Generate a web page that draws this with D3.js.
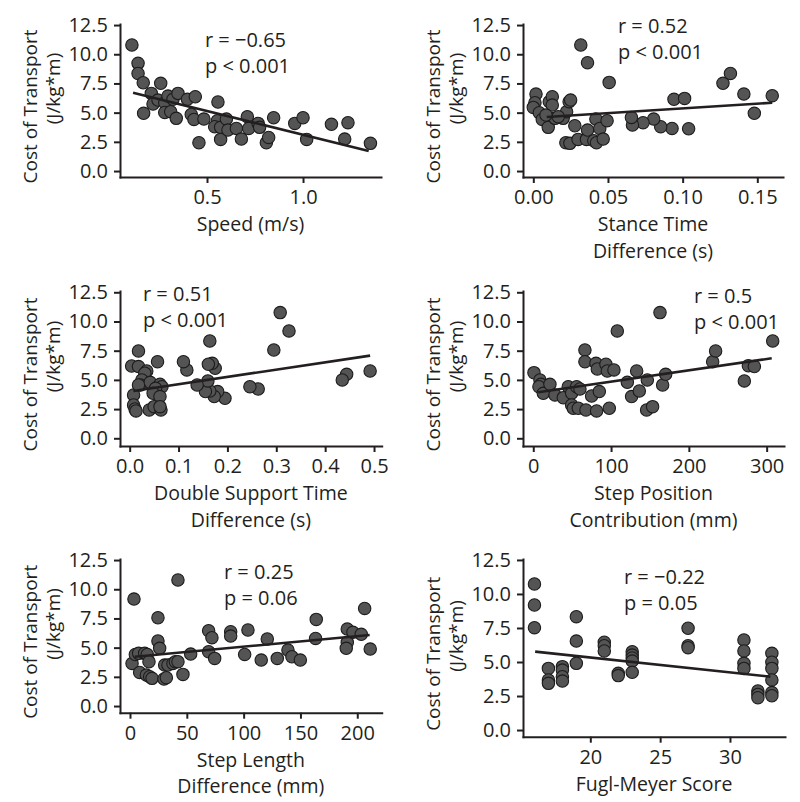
<!DOCTYPE html>
<html><head><meta charset="utf-8">
<script src="https://cdn.jsdelivr.net/npm/d3@7"></script>
<style>
body{margin:0;background:#fff}
svg{display:block}
text{font-family:"Open Sans",sans-serif;fill:#231f20}
</style>
</head><body>
<svg id="chart" width="800" height="802"></svg>
<script>
// ---------- data ----------
const speedX=[0.109,0.141,0.141,0.168,0.170,0.210,0.219,0.259,0.245,0.280,0.280,0.311,0.297,0.323,0.349,0.340,0.398,0.439,0.418,0.432,0.458,0.484,0.557,0.554,0.540,0.571,0.601,0.571,0.609,0.653,0.679,0.710,0.717,0.766,0.774,0.809,0.821,0.847,0.957,1.000,1.019,1.148,1.234,1.217,1.351];
const speedY=[10.79,9.22,8.36,7.56,4.94,6.65,5.74,7.51,6.08,5.85,5.02,5.08,6.42,6.14,6.65,4.51,6.14,6.36,4.85,4.42,2.43,4.45,5.91,4.31,3.80,3.74,4.45,2.71,3.51,3.65,2.74,4.65,3.65,4.08,3.74,2.43,2.88,4.57,4.08,4.57,2.71,4.00,4.14,2.74,2.37];
const speedFit=[[0.115,6.71],[1.342,1.71]];

const stanceX=[0.0318,0.0363,0.0508,0.127,0.132,0.141,0.160,0.148,0.0942,0.1013,0.104,0.0929,0.0853,0.0806,0.0735,0.0664,0.0657,0.0018,0.0011,0.0,0.004,0.006,0.010,0.0107,0.0127,0.0127,0.0145,0.0085,0.020,0.0223,0.024,0.025,0.0218,0.0245,0.0278,0.030,0.0356,0.0363,0.0405,0.0423,0.0419,0.0445,0.0468,0.0494,0.0167];
const stanceY=[10.79,9.28,7.59,7.51,8.36,6.59,6.45,4.94,6.14,6.22,3.62,3.65,3.80,4.45,4.14,3.94,4.59,6.59,5.85,5.45,4.99,4.42,3.74,5.94,6.36,5.65,4.51,4.79,4.51,5.08,5.94,6.08,2.43,2.37,3.88,2.71,2.71,3.51,2.60,2.43,4.45,3.65,2.74,4.31,4.65];
const stanceFit=[[0.009,4.63],[0.160,5.85]];

const dsX=[0.308,0.326,0.295,0.164,0.492,0.444,0.435,0.263,0.246,0.195,0.180,0.173,0.164,0.155,0.160,0.138,0.175,0.169,0.161,0.117,0.110,0.057,0.018,0.004,0.018,0.035,0.031,0.025,0.022,0.042,0.062,0.066,0.053,0.048,0.062,0.008,0.008,0.011,0.013,0.040,0.050,0.064,0.062,0.018];
const dsY=[10.76,9.19,7.56,8.33,5.76,5.48,4.99,4.22,4.42,3.42,4.00,3.57,4.05,4.00,4.91,4.57,5.99,6.42,6.34,5.85,6.56,6.56,7.48,6.19,6.14,5.76,5.57,4.99,4.57,4.79,4.62,4.42,4.28,3.85,3.57,3.71,2.85,2.51,2.34,2.43,2.71,2.43,2.71,4.57];
const dsFit=[[0.0075,4.05],[0.492,7.08]];

const posX=[0.9,8.6,9.9,7.3,12.9,21.4,27.9,38.6,45,49.3,55.7,60,49.3,51.4,57.9,67.7,81.4,97.7,66.4,66.4,80.6,82.3,93.4,95.2,103.7,108,162.9,120.9,132.9,126.4,136.3,75,84.9,146.6,145.7,153.4,166.3,170.2,230.6,234.4,271.3,276.5,284.2,307.8];
const posY=[5.62,4.99,4.62,4.42,3.85,4.62,3.71,3.48,4.42,3.85,4.42,4.22,2.85,2.57,2.57,2.43,2.34,2.57,7.56,6.56,6.42,5.94,6.34,5.76,5.85,9.19,10.76,4.79,5.76,3.57,4.05,3.62,4.00,4.99,2.43,2.71,4.57,5.48,6.56,7.48,4.91,6.22,6.14,8.33];
const posFit=[[6.4,3.94],[306.5,6.85]];

const slX=[3.5,42.2,24.6,24.6,26.1,1.8,4.7,7.6,12.9,15.2,16.7,8.5,14.4,17.3,19.4,29.9,32,30.5,33.4,37.8,39.9,42.2,46.6,53.4,69.2,72.1,69.2,74.5,88.6,88.6,103.8,100.9,115.5,120.8,129.6,139,142.5,149.9,163.9,163.3,191.2,191.2,190.3,196.2,203.5,206.5,211.4];
const slY=[9.16,10.79,7.56,5.57,4.94,3.65,4.42,4.51,4.51,4.42,3.80,2.88,2.65,2.51,2.37,2.31,2.43,3.51,3.51,3.65,3.80,3.80,2.71,4.45,6.45,5.85,4.65,4.08,6.36,5.99,6.51,4.42,3.94,5.74,4.08,4.79,4.22,3.94,7.42,5.79,6.59,5.45,4.94,6.31,6.14,8.36,4.88];
const slFit=[[4.1,4.22],[210.9,6.08]];

const fmX=[16,16,16,17,17,17,18,18,18,18,19,19,19,21,21,21,22,22,23,23,23,23,23,27,27,27,31,31,31,31,32,32,32,33,33,33,33,33,33];
const fmY=[10.74,9.19,7.52,4.53,3.68,3.43,4.66,4.41,3.92,3.60,8.33,6.54,4.90,6.45,6.20,5.81,4.17,4.00,5.76,5.51,5.30,5.07,4.24,7.48,6.20,6.05,6.62,5.81,4.90,4.53,2.87,2.62,2.38,5.64,4.98,4.53,3.68,2.75,2.52];
const fmFit=[[16.05,5.76],[32.9,3.92]];

const yTicks=[0,2.5,5,7.5,10,12.5];
const xTitles=[["Speed (m/s)"],["Stance Time","Difference (s)"],["Double Support Time","Difference (s)"],["Step Position","Contribution (mm)"],["Step Length","Difference (mm)"],["Fugl-Meyer Score"]];
const stats=[["r = \u22120.65","p < 0.001"],["r = 0.52","p < 0.001"],["r = 0.51","p < 0.001"],["r = 0.5","p < 0.001"],["r = 0.25","p = 0.06"],["r = \u22120.22","p = 0.05"]];
const yTitle=["Cost of Transport","(J/kg*m)"];

// ---------- layout ----------
const panels=[
 {xs:speedX,ys:speedY,fit:speedFit,xd:[0.047,1.406],xr:[120,381],yd:[-0.51,12.59],yr:[177,24],xt:[0.5,1.0],fmt:".1f",ann:[205,46.7]},
 {xs:stanceX,ys:stanceY,fit:stanceFit,xd:[-0.0069,0.1672],xr:[523,783],yd:[-0.51,12.59],yr:[177,24],xt:[0,0.05,0.10,0.15],fmt:".2f",ann:[618,32.5]},
 {xs:dsX,ys:dsY,fit:dsFit,xd:[-0.0198,0.5157],xr:[120,381.7],yd:[-0.66,12.61],yr:[446,291],xt:[0,0.1,0.2,0.3,0.4,0.5],fmt:".1f",ann:[143,301]},
 {xs:posX,ys:posY,fit:posFit,xd:[-13.2,322.3],xr:[523,784],yd:[-0.66,12.61],yr:[446,291],xt:[0,100,200,300],fmt:"d",ann:[694,303]},
 {xs:slX,ys:slY,fit:slFit,xd:[-8.8,221.5],xr:[120,381.7],yd:[-0.57,12.59],yr:[712.7,559],xt:[0,50,100,150,200],fmt:"d",ann:[224,579]},
 {xs:fmX,ys:fmY,fit:fmFit,xd:[15.18,33.94],xr:[523,785],yd:[-0.49,12.57],yr:[736.7,559],xt:[20,25,30],fmt:"d",ann:[624,583.5]}
];

const ink="#231f20";
const svg=d3.select("#chart");

panels.forEach((p,i)=>{
  const x=d3.scaleLinear().domain(p.xd).range(p.xr);
  const y=d3.scaleLinear().domain(p.yd).range(p.yr);
  const g=svg.append("g");

  // points
  g.selectAll("circle").data(p.xs.map((v,k)=>[v,p.ys[k]])).join("circle")
    .attr("cx",d=>x(d[0])).attr("cy",d=>y(d[1])).attr("r",6.2)
    .attr("fill","#545454").attr("stroke","#1c1c1c").attr("stroke-width",1.1);

  // regression line
  g.append("path").attr("d",d3.line().x(d=>x(d[0])).y(d=>y(d[1]))(p.fit))
    .attr("stroke",ink).attr("stroke-width",2.6).attr("fill","none");

  // axes
  const xa=g.append("g").attr("transform",`translate(0,${p.yr[0]})`)
    .call(d3.axisBottom(x).tickValues(p.xt).tickFormat(d3.format(p.fmt)).tickSize(6).tickPadding(7).tickSizeOuter(0));
  const ya=g.append("g").attr("transform",`translate(${p.xr[0]},0)`)
    .call(d3.axisLeft(y).tickValues(yTicks).tickFormat(d3.format(".1f")).tickSize(6).tickPadding(6).tickSizeOuter(0));
  [xa,ya].forEach(a=>{
    a.attr("color",ink).attr("font-size",20).attr("font-family","'Open Sans',sans-serif");
    a.select(".domain").attr("stroke-width",2).attr("stroke-linecap","square");
    a.selectAll(".tick line").attr("stroke-width",2);
    a.selectAll(".tick text").attr("font-size",20).style("font-size","20px").style("fill",ink);
  });

  // x title
  const cx=(p.xr[0]+p.xr[1])/2;
  xTitles[i].forEach((t,k)=>{
    g.append("text").attr("x",cx).attr("y",p.yr[0]+54+k*26.5)
      .attr("text-anchor","middle").style("font-size","19.5px").text(t);
  });

  // y title (rotated, two lines)
  const cy=(p.yr[0]+p.yr[1])/2;
  const lx=p.xr[0]-83, lx2=p.xr[0]-60;
  g.append("text").attr("transform",`translate(${lx},${cy+6}) rotate(-90)`)
    .attr("text-anchor","middle").style("font-size","19px").text(yTitle[0]);
  g.append("text").attr("transform",`translate(${lx2},${cy-12}) rotate(-90)`)
    .attr("text-anchor","middle").style("font-size","19px").text(yTitle[1]);

  // stats annotation
  stats[i].forEach((t,k)=>{
    g.append("text").attr("x",p.ann[0]).attr("y",p.ann[1]+k*26)
      .style("font-size","20px").text(t);
  });
});
</script>
</body></html>
